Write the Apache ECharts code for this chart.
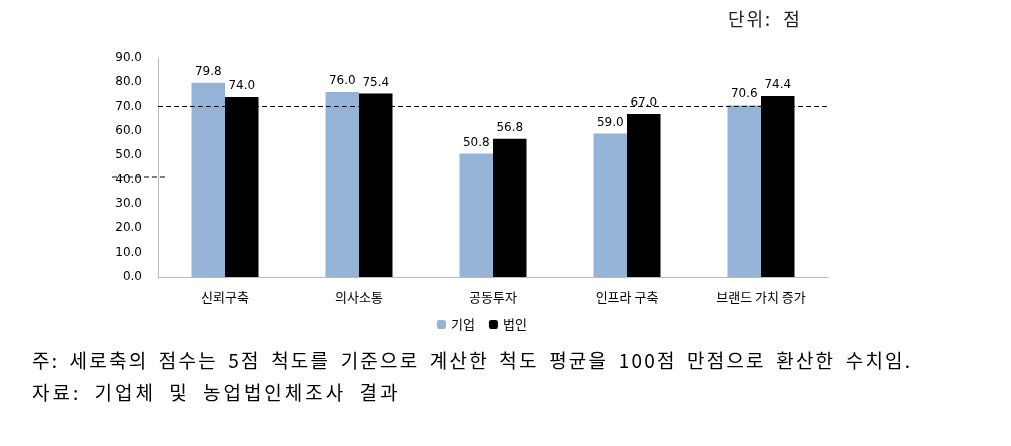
<!DOCTYPE html>
<html>
<head>
<meta charset="utf-8">
<script src="https://cdn.jsdelivr.net/npm/echarts@6/dist/echarts.min.js"></script>
<style>
body { margin: 0; background: #fff; }
#wrap { position: relative; width: 1011px; height: 446px; }
#main { width: 1011px; height: 446px; }
.note {
  position: absolute;
  font-family: "Noto Sans CJK KR", sans-serif;
  font-size: 19px;
  line-height: 22px;
  color: #000;
  white-space: nowrap;
}
</style>
</head>
<body>
<div id="wrap">
  <div id="main"></div>
  <div class="note" style="left:728px; top:7px; color:#222; font-size:18px; letter-spacing:2px; word-spacing:5px;">단위: 점</div>
  <div class="note" style="left:32px; top:349px; letter-spacing:2.2px; word-spacing:4px;">주: 세로축의 점수는 5점 척도를 기준으로 계산한 척도 평균을 100점 만점으로 환산한 수치임.</div>
  <div class="note" style="left:32px; top:381px; letter-spacing:3px; word-spacing:6px;">자료: 기업체 및 농업법인체조사 결과</div>
</div>
<script>
var categories = ['신뢰구축', '의사소통', '공동투자', '인프라 구축', '브랜드 가치 증가']
var firmValues = [79.8, 76.0, 50.8, 59.0, 70.6]
var corpValues = [74.0, 75.4, 56.8, 67.0, 74.4]
var yTicks = { min: 0, max: 90, interval: 10 }
var refLine = 70

var chart = echarts.init(document.getElementById('main'))
var kr = '"Noto Sans CJK KR", sans-serif'
var num = 'Verdana, "DejaVu Sans", sans-serif'

chart.setOption({
  animation: false,
  textStyle: { fontFamily: kr },
  grid: { left: 158, right: 183, top: 58, bottom: 169 },
  legend: {
    data: ['기업', '법인'],
    top: 313,
    left: 432,
    itemWidth: 9,
    itemHeight: 9,
    itemGap: 14,
    textStyle: { color: '#000', fontSize: 13, fontFamily: kr }
  },
  xAxis: {
    type: 'category',
    data: categories,
    axisLine: { lineStyle: { color: '#bbb' } },
    axisTick: { show: false },
    axisLabel: { color: '#000', fontSize: 13, margin: 14 }
  },
  yAxis: {
    type: 'value',
    min: yTicks.min,
    max: yTicks.max,
    interval: yTicks.interval,
    axisLine: { show: true, lineStyle: { color: '#bbb' } },
    axisTick: { show: false },
    splitLine: { show: false },
    axisLabel: {
      color: '#000',
      fontSize: 12,
      fontFamily: num,
      margin: 16,
      formatter: function (v) { return v.toFixed(1) }
    }
  },
  series: [
    {
      name: '기업',
      type: 'bar',
      data: firmValues,
      barGap: 0,
      barCategoryGap: '50%',
      itemStyle: { color: '#95B3D7' },
      label: {
        show: true,
        position: 'top',
        color: '#000',
        fontSize: 12,
        fontFamily: num,
        formatter: function (p) { return p.value.toFixed(1) }
      },
      markLine: {
        silent: true,
        symbol: 'none',
        label: { show: false },
        lineStyle: { color: '#000', type: [5, 3], width: 1.2 },
        data: [{ yAxis: refLine }]
      }
    },
    {
      name: '법인',
      type: 'bar',
      data: corpValues,
      itemStyle: { color: '#000' },
      label: {
        show: true,
        position: 'top',
        color: '#000',
        fontSize: 12,
        fontFamily: num,
        formatter: function (p) { return p.value.toFixed(1) }
      }
    }
  ],
  graphic: [
    {
      type: 'line',
      shape: { x1: 112, y1: 177, x2: 168, y2: 177 },
      style: { stroke: '#000', lineWidth: 1.2, lineDash: [5, 3] }
    }
  ]
})
</script>
</body>
</html>
